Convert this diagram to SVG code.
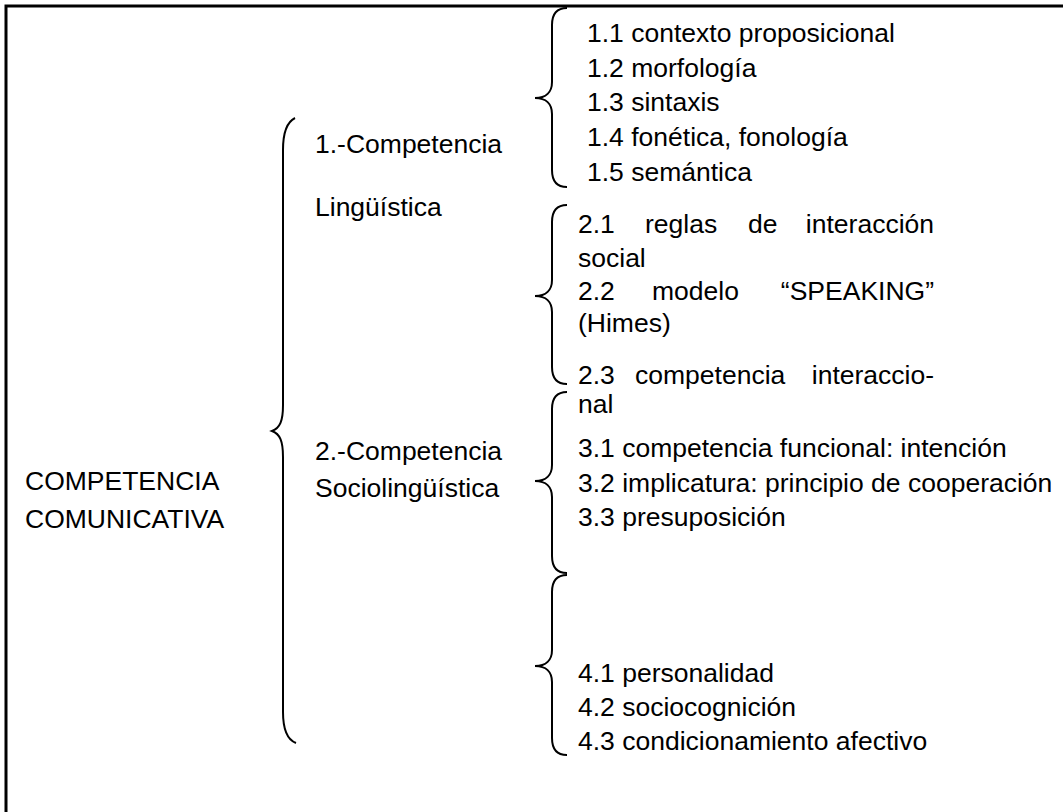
<svg xmlns="http://www.w3.org/2000/svg" width="1063" height="812" viewBox="0 0 1063 812">
<style>
text{font-family:"Liberation Sans",Arial,sans-serif;font-size:26.5px;fill:#000}
.e{text-anchor:end}
.br{fill:none;stroke:#000;stroke-width:2}
.frame{fill:none;stroke:#000;stroke-width:3}
</style>
<rect width="1063" height="812" fill="#fff"/>
<path class="frame" d="M6,812 L6,6 L1063,6"/>
<g id="root">
<text x="25" y="490">COMPETENCIA</text>
<text x="25" y="528">COMUNICATIVA</text>
</g>
<g id="connectors">
<path class="br" d="M295,118 C287,122 283,132 283,150 L283,405 C283,421 280,428 272,431 C280,434 283,441 283,457 L283,712 C283,730 288,740 296,743"/>
<path class="br" d="M567,8 C557,8 552,14 552,25 L552,82 C552,92 546,98 535,98 C546,98 552,104 552,114 L552,170 C552,181 557,187 567,187"/>
<path class="br" d="M567,205 C557,205 552,211 552,222 L552,280 C552,290 546,296 535,296 C546,296 552,302 552,312 L552,367 C552,378 557,384 567,384"/>
<path class="br" d="M567,392 C557,392 552,398 552,409 L552,465 C552,475 546,481 535,481 C546,481 552,487 552,497 L552,556 C552,567 557,573 567,573"/>
<path class="br" d="M567,575 C557,575 552,581 552,592 L552,650 C552,660 546,666 535,666 C546,666 552,672 552,682 L552,738 C552,749 557,755 567,755"/>
</g>
<g id="n1">
<text x="315" y="153">1.-Competencia</text>
<text x="315" y="216">Lingüística</text>
</g>
<g id="n2">
<text x="315" y="460">2.-Competencia</text>
<text x="315" y="497">Sociolingüística</text>
</g>
<g id="g1">
<text x="587" y="42">1.1 contexto proposicional</text>
<text x="587" y="77">1.2 morfología</text>
<text x="587" y="111">1.3 sintaxis</text>
<text x="587" y="146">1.4 fonética, fonología</text>
<text x="587" y="181">1.5 semántica</text>
</g>
<g id="g2">
<text y="233"><tspan x="578">2.1</tspan><tspan x="645">reglas</tspan><tspan x="748">de</tspan></text>
<text class="e" x="934" y="233">interacción</text>
<text x="578" y="267">social</text>
<text y="300"><tspan x="578">2.2</tspan><tspan x="652">modelo</tspan></text>
<text class="e" x="934" y="300">“SPEAKING”</text>
<text x="578" y="332">(Himes)</text>
<text y="384"><tspan x="578">2.3</tspan><tspan x="635">competencia</tspan></text>
<text class="e" x="934" y="384">interaccio-</text>
<text x="578" y="413">nal</text>
</g>
<g id="g3">
<text x="578" y="457">3.1 competencia funcional: intención</text>
<text x="578" y="492">3.2 implicatura: principio de cooperación</text>
<text x="578" y="526">3.3 presuposición</text>
</g>
<g id="g4">
<text x="578" y="682">4.1 personalidad</text>
<text x="578" y="716">4.2 sociocognición</text>
<text x="578" y="750">4.3 condicionamiento afectivo</text>
</g>
</svg>
